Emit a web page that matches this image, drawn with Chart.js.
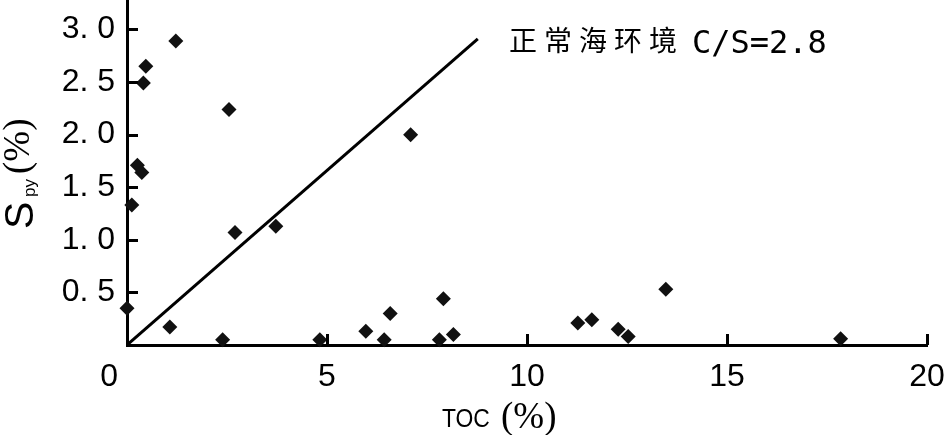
<!DOCTYPE html>
<html>
<head>
<meta charset="utf-8">
<script src="https://cdn.jsdelivr.net/npm/chart.js@4/dist/chart.umd.min.js"></script>
<style>
  html, body { margin: 0; padding: 0; background: #fff; }
  #wrap { width: 945px; height: 435px; }
</style>
</head>
<body>
<div id="wrap"><canvas id="scatterChart" width="945" height="435"></canvas></div>
<script>
// samples: TOC (%) vs S_py (%)
var tocValues = [1.22, 0.47, 0.41, 2.55, 0.26, 0.37, 0.12, 0.0, 1.07, 2.39, 2.7, 3.72, 4.82,
  7.09, 5.97, 6.43, 6.58, 7.91, 7.81, 8.16, 11.27, 11.62, 12.28, 12.53, 13.47, 17.84];
var spyValues = [2.89, 2.65, 2.49, 2.24, 1.71, 1.64, 1.33, 0.35, 0.17, 0.05, 1.07, 1.13, 0.05,
  2.0, 0.13, 0.05, 0.30, 0.44, 0.05, 0.10, 0.21, 0.24, 0.15, 0.08, 0.53, 0.06];
// normal marine line, C/S = 2.8
var lineToc = [0, 8.77];
var lineSpy = [0, 2.91];
var xTicks = [0, 5, 10, 15, 20];
var yTicks = [0.5, 1.0, 1.5, 2.0, 2.5, 3.0];
var noteCn = "正常海环境";
var noteLatin = "C/S=2.8";

// inward tick marks, axis titles and the line label
var decor = {
  id: "decor",
  afterDraw: function (chart) {
    var c = chart.ctx;
    var xs = chart.scales.x, ys = chart.scales.y;
    var area = chart.chartArea;
    c.save();
    c.strokeStyle = "#000";
    c.lineWidth = 3;
    c.beginPath();
    yTicks.forEach(function (v) {
      var py = Math.round(ys.getPixelForValue(v)) + 0.5;
      c.moveTo(area.left, py);
      c.lineTo(area.left + 11, py);
    });
    xTicks.forEach(function (v) {
      if (v === 0) return;
      var px = Math.round(xs.getPixelForValue(v)) + 0.5;
      c.moveTo(px, area.bottom);
      c.lineTo(px, area.bottom - 11);
    });
    c.stroke();

    c.fillStyle = "#000";
    c.textBaseline = "alphabetic";
    c.textAlign = "left";

    // y title: S_py (%)
    c.save();
    c.translate(33, 229);
    c.rotate(-Math.PI / 2);
    c.font = "41px 'Liberation Sans', Arial, sans-serif";
    c.fillText("S", 0, 0);
    c.font = "17px 'Liberation Sans', Arial, sans-serif";
    c.fillText("py", 32, 2);
    c.font = "37px 'Liberation Serif', 'Times New Roman', serif";
    c.fillText("(%)", 55, -4.5);
    c.restore();

    // x title: TOC (%)
    c.save();
    c.translate(442, 427);
    c.scale(0.88, 1);
    c.font = "26px 'Liberation Sans', Arial, sans-serif";
    c.fillText("TOC", 0, 0);
    c.restore();
    c.font = "37px 'Liberation Serif', 'Times New Roman', serif";
    c.fillText("(%)", 501, 428);

    // label of the line
    c.font = "28px 'Noto Sans CJK SC', sans-serif";
    for (var i = 0; i < noteCn.length; i++) {
      c.fillText(noteCn[i], 509 + i * 35, 51);
    }
    c.font = "32px 'DejaVu Sans Mono', monospace";
    c.fillText(noteLatin, 692, 53);
    c.restore();
  }
};

var tickFont = { family: "'Liberation Sans', Arial, sans-serif", size: 32 };

var ctx = document.getElementById("scatterChart").getContext("2d");
var scatterChart = new Chart(ctx, {
  type: "scatter",
  data: {
    datasets: [
      {
        label: "Samples",
        data: tocValues.map(function (x, i) { return { x: x, y: spyValues[i] }; }),
        pointStyle: "rectRot",
        pointRadius: 7.5,
        pointHoverRadius: 7.5,
        backgroundColor: "#111",
        borderWidth: 0,
        clip: false,
      },
      {
        type: "line",
        label: "C/S=2.8",
        data: lineToc.map(function (x, i) { return { x: x, y: lineSpy[i] }; }),
        borderColor: "#000",
        borderWidth: 3,
        pointRadius: 0,
        fill: false,
      },
    ],
  },
  options: {
    responsive: false,
    animation: false,
    layout: { autoPadding: false, padding: { left: 0, right: 18, top: 0, bottom: 0 } },
    plugins: {
      legend: { display: false },
      tooltip: { enabled: false },
    },
    scales: {
      x: {
        type: "linear",
        min: 0,
        max: 20,
        afterFit: function (s) { s.height = 90; s.paddingLeft = 0; s.paddingRight = 0; },
        afterBuildTicks: function (s) { s.ticks = xTicks.map(function (v) { return { value: v }; }); },
        grid: { display: false, drawTicks: false },
        border: { color: "#000", width: 3 },
        ticks: {
          color: "#000",
          font: tickFont,
          padding: 13,
          maxRotation: 0,
          autoSkip: false,
          // pad the zero so it sits left of the corner
          callback: function (v) { return v === 0 ? "0    " : String(v); },
        },
      },
      y: {
        type: "linear",
        min: 0,
        max: 3.28,
        afterFit: function (s) { s.width = 127; s.paddingTop = 0; s.paddingBottom = 0; },
        afterBuildTicks: function (s) { s.ticks = yTicks.map(function (v) { return { value: v }; }); },
        grid: { display: false, drawTicks: false },
        border: { color: "#000", width: 3 },
        ticks: {
          color: "#000",
          font: tickFont,
          padding: 12,
          callback: function (v) { return v.toFixed(1).replace(".", ". "); },
        },
      },
    },
  },
  plugins: [decor],
});
</script>
</body>
</html>
